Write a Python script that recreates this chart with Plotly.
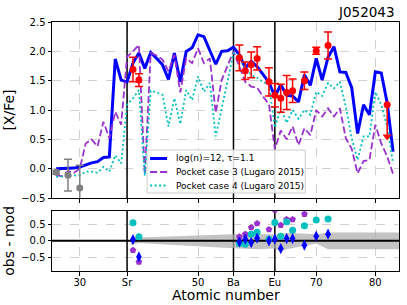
import plotly.graph_objects as go

# ---------------- data ----------------
Z = list(range(26, 84))
blue_model = [0.0, 0.0, 0.0, 0.01, 0.03, 0.07, 0.1, 0.12, 0.19, 0.2,
              1.87, 1.51, 1.48, 1.80, 1.97, 1.71, 1.98, 1.88, 1.77, 1.52,
              1.97, 1.48, 2.0, 2.06, 2.28, 2.25, 2.02, 1.78, 2.0, 2.01,
              2.07, 1.94, 1.72, 1.83, 1.74, 1.6, 1.47, 1.23, 1.43, 1.25,
              1.24, 1.14, 1.6, 1.42, 1.88, 1.51, 1.9, 2.08, 1.65, 1.64,
              1.38, 0.6, 1.09, 0.92, 1.65, 1.63, 1.12, 0.29]
purple_model = [-0.11, -0.13, -0.04, -0.07, 0.0, 0.43, 0.5, 0.38, 0.8, 0.52,
                0.97, 0.75, 1.91, 2.0, 2.11, -0.1, 1.97, 1.93, 1.86, 1.66,
                1.94, 1.3, 1.88, 1.8, 2.05, 1.8, 1.88, 0.95, 1.51, 1.74,
                2.0, 1.74, 1.48, 1.4, 1.38, 1.23, 1.1, 0.33, 0.65, 0.5,
                0.72, 0.4, 0.69, 0.57, 1.0, 0.89, 1.03, 0.89, 1.03, 0.52,
                0.34, -0.08, 0.13, 0.15, 0.75, 0.43, 0.21, -0.09]
cyan_model = [-0.14, -0.13, -0.12, -0.12, -0.11, -0.05, -0.05, -0.07, 0.03, -0.05,
              0.23, 0.09, 1.09, 1.2, 1.34, -0.12, 1.33, 1.3, 1.26, 0.72,
              1.2, 0.76, 1.34, 1.17, 1.57, 1.31, 1.46, 0.55, 1.03, 1.51,
              1.97, 1.93, 1.72, 1.6, 1.55, 1.48, 1.43, 0.7, 1.03, 0.78,
              1.0, 0.85, 1.0, 0.92, 1.31, 1.24, 1.46, 1.37, 1.48, 1.06,
              0.52, 0.15, 0.55, 0.55, 1.31, 1.09, 0.72, 0.09]

obs_Z = [39, 40, 57, 58, 59, 60, 62, 63, 64, 65, 66, 68, 70, 72]
obs_val = [1.69, 1.51, 1.89, 1.67, 1.77, 1.88, 1.48, 1.25, 1.2, 1.3, 1.33, 1.5, 2.01, 2.1]
obs_err = [0.21, 0.11, 0.22, 0.15, 0.22, 0.2, 0.24, 0.2, 0.24, 0.29, 0.2, 0.15, 0.06, 0.23]

grey_Z = [26, 28, 30]
grey_val = [-0.06, -0.11, -0.33]
grey_err = [0.03, 0.27, 0.39]

ul_Z = 82
ul_val = 1.09
ul_arrow = 0.54

res_blue = [0.04, -0.48, -0.03, 0.05, -0.05, 0.08, 0.0, 0.05, -0.23, 0.07, 0.07, -0.13, 0.14, 0.2]
res_purple = [-0.28, -0.63, 0.12, 0.2, 0.4, 0.52, 0.34, 0.93, 0.47, 0.64, 0.64, 0.8, 1.01, 1.07]
res_cyan = [0.54, 0.12, -0.08, -0.1, 0.2, 0.26, 0.05, 0.55, 0.14, 0.57, 0.32, 0.45, 0.62, 0.65]

band_Z = [38.6, 40, 56, 60, 63, 64, 65, 68, 70, 72, 84]
band_hi = [0.12, 0.1, 0.2, 0.2, 0.22, 0.2, 0.24, 0.22, 0.2, 0.25, 0.25]
band_lo = [-0.12, -0.06, -0.22, -0.25, -0.23, -0.32, -0.25, -0.15, -0.08, -0.25, -0.25]

tick_vals = [30, 38, 50, 56, 63, 70, 80]
tick_text = ["30", "Sr", "50", "Ba", "Eu", "70", "80"]
marker_Z = [38, 56, 63]

legend_labels = ["log(n)=12, \u03c4=1.1", "Pocket case 3 (Lugaro 2015)", "Pocket case 4 (Lugaro 2015)"]

X_RANGE = [25.3, 84.0]
Y_TOP = [-0.5, 2.5]
Y_BOT = [-0.9, 0.9]

BLUE = "#0000FF"
PURPLE = "#9932CC"
CYAN = "#00BFBF"
FONT = "DejaVu Sans"

styles = [dict(color=BLUE, width=3),
          dict(color=PURPLE, width=1.8, dash="7px,3px"),
          dict(color=CYAN, width=1.8, dash="2px,2.5px")]

fig = go.Figure()

# vertical element markers (both panels)
for yr, xa, ya in [(Y_TOP, "x2", "y2"), (Y_BOT, "x", "y")]:
    vx, vy = [], []
    for z in marker_Z:
        vx += [z, z, None]
        vy += [yr[0], yr[1], None]
    fig.add_trace(go.Scatter(x=vx, y=vy, mode="lines", line=dict(color="black", width=1.5),
                             xaxis=xa, yaxis=ya, showlegend=False, hoverinfo="skip"))

# model lines (top panel)
for vals, lab, st in zip([blue_model, purple_model, cyan_model], legend_labels, styles):
    fig.add_trace(go.Scatter(x=Z, y=vals, mode="lines", name=lab, line=st,
                             xaxis="x2", yaxis="y2", showlegend=False))

# observations
fig.add_trace(go.Scatter(x=grey_Z, y=grey_val, mode="markers",
                         marker=dict(color="grey", size=7),
                         error_y=dict(type="data", array=grey_err, color="grey", thickness=1.5, width=4),
                         xaxis="x2", yaxis="y2", showlegend=False))
fig.add_trace(go.Scatter(x=obs_Z, y=obs_val, mode="markers",
                         marker=dict(color="red", size=7),
                         error_y=dict(type="data", array=obs_err, color="red", thickness=1.5, width=4),
                         xaxis="x2", yaxis="y2", showlegend=False))
fig.add_trace(go.Scatter(x=[ul_Z, ul_Z], y=[ul_val, ul_val - ul_arrow], mode="lines",
                         line=dict(color="red", width=1.5), xaxis="x2", yaxis="y2", showlegend=False))
fig.add_trace(go.Scatter(x=[ul_Z], y=[ul_val], mode="markers", marker=dict(color="red", size=7),
                         xaxis="x2", yaxis="y2", showlegend=False))
fig.add_trace(go.Scatter(x=[ul_Z], y=[ul_val - ul_arrow], mode="markers",
                         marker=dict(color="red", size=8, symbol="triangle-down"),
                         xaxis="x2", yaxis="y2", showlegend=False))

# residual panel
fig.add_trace(go.Scatter(x=band_Z, y=band_lo, mode="lines", line=dict(width=0, color="#bdbdbd"),
                         showlegend=False, hoverinfo="skip"))
fig.add_trace(go.Scatter(x=band_Z, y=band_hi, mode="lines", line=dict(width=0, color="#bdbdbd"),
                         fill="tonexty", fillcolor="rgba(170,170,170,0.7)",
                         showlegend=False, hoverinfo="skip"))
fig.add_trace(go.Scatter(x=X_RANGE, y=[0, 0], mode="lines", line=dict(color="black", width=2),
                         showlegend=False, hoverinfo="skip"))
fig.add_trace(go.Scatter(x=obs_Z, y=res_purple, mode="markers",
                         marker=dict(color=PURPLE, size=7, symbol="pentagon"), showlegend=False))
fig.add_trace(go.Scatter(x=obs_Z, y=res_cyan, mode="markers",
                         marker=dict(color=CYAN, size=7, symbol="circle"), showlegend=False))
fig.add_trace(go.Scatter(x=obs_Z, y=res_blue, mode="markers",
                         marker=dict(color=BLUE, size=8, symbol="diamond-tall"), showlegend=False))

# ---- legend drawn in the top panel (paper coordinates) ----
L = 52.0; R = 398.7; T = 22.0; B = 271.0
def px(xp): return (xp - L) / (R - L)
def py(yp): return (B - yp) / (B - T)

shapes = [dict(type="rect", xref="paper", yref="paper", x0=px(147), x1=px(305), y0=py(193), y1=py(150),
               fillcolor="rgba(255,255,255,0.85)", line=dict(color="#cccccc", width=1), layer="above")]
annotations = []
row_y = [158.5, 172.0, 185.5]
for lab, st, yy in zip(legend_labels, styles, row_y):
    shapes.append(dict(type="line", xref="paper", yref="paper", x0=px(150), x1=px(167),
                       y0=py(yy), y1=py(yy), line=st, layer="above"))
    annotations.append(dict(text=lab, xref="paper", yref="paper", x=px(174), y=py(yy),
                            xanchor="left", yanchor="middle", showarrow=False,
                            font=dict(family=FONT, size=9, color="black")))
annotations.append(dict(text="J052043", xref="paper", yref="paper", x=px(397), y=py(12),
                        xanchor="right", yanchor="middle", showarrow=False,
                        font=dict(family=FONT, size=13.5, color="black")))
annotations.append(dict(text="Atomic number", xref="paper", yref="paper", x=0.5, y=py(295),
                        xanchor="center", yanchor="middle", showarrow=False,
                        font=dict(family=FONT, size=14, color="black")))

axis_common = dict(showline=True, linecolor="black", linewidth=1, mirror=True,
                   ticks="outside", ticklen=3.5, tickwidth=1, tickcolor="black",
                   showgrid=True, gridcolor="#d0d0d0", griddash="dash", gridwidth=0.8,
                   zeroline=False, automargin=False,
                   tickfont=dict(family=FONT, size=10, color="black"))

fig.update_layout(
    width=407, height=305, autosize=False,
    margin=dict(l=52, r=8, t=22, b=34),
    paper_bgcolor="white", plot_bgcolor="white",
    font=dict(family=FONT, color="black"),
    showlegend=False,
    xaxis=dict(domain=[0, 1], anchor="y", range=X_RANGE, tickvals=tick_vals, ticktext=tick_text,
               ticklabelstandoff=-2, **axis_common),
    yaxis=dict(domain=[0, 0.242], anchor="x", range=Y_BOT, tickvals=[-0.5, 0, 0.5],
               ticktext=["\u22120.5", "0.0", "0.5"],
               title=dict(text="obs - mod", font=dict(size=14), standoff=3), **axis_common),
    xaxis2=dict(domain=[0, 1], anchor="y2", matches="x", range=X_RANGE, tickvals=tick_vals,
                showticklabels=False, **axis_common),
    yaxis2=dict(domain=[0.293, 1], anchor="x2", range=Y_TOP,
                tickvals=[-0.5, 0, 0.5, 1.0, 1.5, 2.0, 2.5],
                ticktext=["\u22120.5", "0.0", "0.5", "1.0", "1.5", "2.0", "2.5"],
                title=dict(text="[X/Fe]", font=dict(size=14), standoff=3), **axis_common),
    shapes=shapes,
    annotations=annotations,
)

fig.write_html("out.html", config={"displayModeBar": False},
               post_script="document.body.style.margin='0px';document.body.style.overflow='hidden';")
